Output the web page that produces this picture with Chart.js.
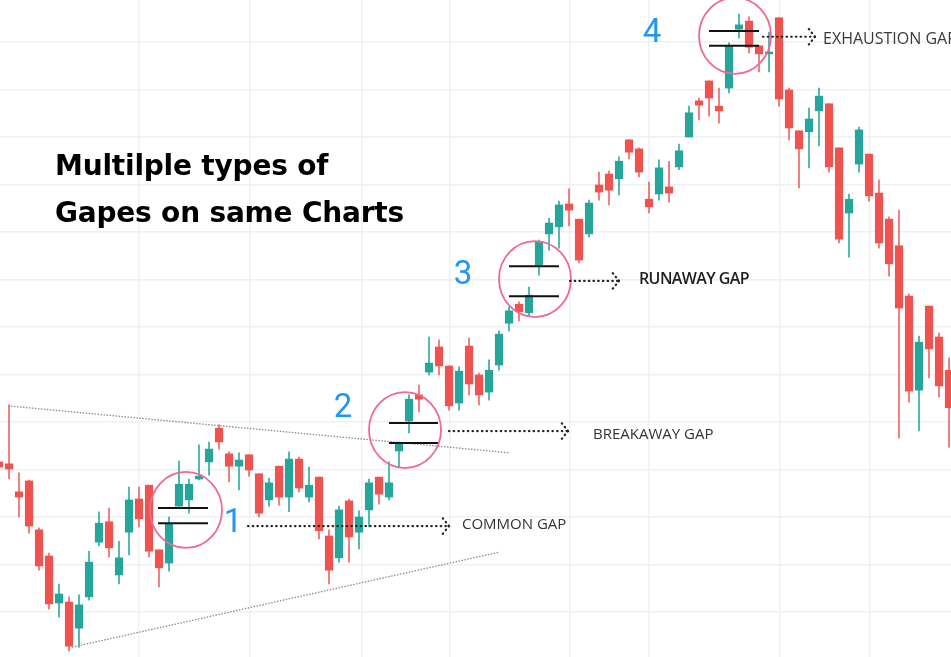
<!DOCTYPE html>
<html>
<head>
<meta charset="utf-8">
<script src="https://cdn.jsdelivr.net/npm/chart.js@4.4.0/dist/chart.umd.min.js"></script>
<style>
  html, body { margin: 0; padding: 0; background: #ffffff; }
  #wrap { position: relative; width: 951px; height: 657px; overflow: hidden; }
  #wrap canvas { position: absolute; left: 0; top: 0; }
  .lbl { position: absolute; white-space: nowrap; line-height: 1; transform: translate(0, -50%); }
  .title { font-family: "DejaVu Sans", sans-serif; font-weight: bold; font-size: 28px; color: #000; letter-spacing: -0.2px; }
  .num { font-family: Roboto, "Open Sans", sans-serif; font-size: 33px; color: #2196f3; transform: translate(-50%, -50%); }
  .gap { font-family: "Open Sans", sans-serif; font-size: 15px; color: #333; }
  .gap.bold { font-size: 16px; color: #1e1e1e; font-weight: 600; letter-spacing: -0.6px; }
  .gap.small { font-size: 16px; color: #3a3a3a; }
</style>
</head>
<body>
<div id="wrap"><canvas id="c" width="951" height="657"></canvas></div>
<script>
// ---- candle data ----
const opens = [
  131.6,131.2,125.3,127.6,117.3,111.8,101.9,102.1,96.6,103.2,
  114.7,119.0,107.8,116.8,123.8,126.7,113.1,110.3,122.3,123.6,
  128.0,131.6,138.7,133.3,130.7,133.1,129.1,123.6,130.7,124.2,
  132.2,124.2,128.4,116.0,111.4,123.4,116.8,121.5,128.4,124.2,
  133.9,140.2,145.7,150.5,155.8,151.8,144.0,156.0,149.9,146.3,
  152.0,160.8,164.8,163.0,173.1,179.6,181.1,185.9,182.7,179.6,
  189.9,192.2,191.2,199.4,197.5,186.9,188.0,189.5,193.7,200.0,
  207.6,211.8,206.5,210.3,222.7,224.4,219.2,217.5,225.1,209.9,
  201.3,201.1,205.5,207.0,197.7,184.0,194.3,196.4,188.2,182.7,
  177.1,166.5,146.7,164.4,157.9,150.9
];
const highs = [
  133.1,143.6,129.3,127.8,117.7,112.4,105.9,103.2,103.6,112.8,
  121.1,121.9,114.9,126.3,126.3,126.7,113.1,120.0,131.8,128.0,
  135.2,135.8,139.4,133.7,133.5,133.1,129.1,128.2,130.7,133.7,
  132.6,130.5,128.4,117.3,122.3,123.8,121.3,128.0,128.4,131.6,
  135.8,145.7,147.8,157.9,157.3,151.8,151.6,157.7,150.3,153.1,
  159.2,164.2,165.3,168.4,178.3,182.9,186.5,189.1,182.7,186.7,
  192.6,192.8,195.8,199.4,197.7,190.5,195.2,194.9,198.5,206.5,
  208.2,211.8,210.3,219.8,225.9,225.3,219.2,222.1,225.1,210.3,
  201.3,206.1,210.3,207.0,197.7,188.0,202.1,196.4,191.0,183.2,
  184.6,167.0,158.1,164.4,158.7,153.5
];
const lows = [
  127.8,128.0,120.0,116.6,108.8,100.6,98.9,91.8,92.6,102.5,
  113.9,111.6,105.9,112.0,117.9,111.6,105.3,108.6,122.3,120.8,
  127.8,128.8,134.3,127.4,125.7,128.6,120.0,122.3,122.5,121.1,
  125.3,123.2,115.4,105.9,110.5,110.5,113.3,117.9,122.7,123.6,
  130.5,137.7,142.1,149.9,149.9,142.5,142.5,145.7,143.6,144.6,
  150.9,159.2,161.3,162.3,170.9,176.2,176.6,181.3,173.5,178.9,
  186.7,185.7,187.8,195.4,191.6,184.0,186.7,186.3,193.1,200.0,
  203.6,204.4,202.9,209.3,220.8,217.7,213.7,213.7,206.5,199.4,
  189.3,193.5,198.1,192.6,177.7,174.7,192.6,186.5,176.6,170.7,
  136.6,144.2,138.1,149.3,145.3,134.7
];
const closes = [
  130.5,130.1,124.2,118.1,109.7,101.7,103.8,92.8,101.5,110.5,
  118.7,113.5,111.4,123.6,119.6,112.8,109.3,118.5,126.9,126.9,
  128.6,134.3,135.8,130.7,132.0,129.9,120.8,127.2,124.2,132.2,
  126.1,126.7,117.1,108.8,121.5,115.8,120.0,127.2,124.8,127.2,
  135.4,144.8,144.8,152.4,151.8,143.4,150.7,148.0,145.7,150.9,
  158.5,163.4,163.2,166.7,177.9,181.9,185.7,184.6,174.1,186.1,
  188.4,188.8,194.9,196.8,192.6,185.3,193.5,188.2,197.1,205.1,
  206.7,208.2,205.5,219.2,223.6,218.9,217.5,217.9,208.0,201.9,
  197.5,203.8,208.6,193.7,178.5,186.9,201.5,187.6,177.7,173.3,
  164.0,146.5,156.8,155.4,147.6,143.0
];
// grid ticks
const priceTicks = [100,110,120,130,140,150,160,170,180,190,200,210,220];
const timeTicks = [14, 25.1, 36.3, 45.1, 57.1, 65, 78.1, 87.1];

// ---- annotations (data coordinates: bar index, price) ----
const gapCircles = [[18.7,121.5],[40.6,138.3],[53.6,170.1],[73.6,221.3]];
const gapLines = [
  [15.9,20.9,121.9],[15.9,20.9,118.7],
  [39.0,43.9,139.8],[39.0,43.9,135.6],
  [51.0,56.0,172.8],[51.0,56.0,166.5],
  [71.0,76.0,222.3],[71.0,76.0,219.2]
];
const arrows = [[24.9,45.0,118.1],[45.0,56.9,138.1],[57.1,62.0,169.7],[76.4,81.6,221.1]];
const trendLines = [[0.9,143.4,51.1,133.5],[7.3,92.6,50.0,112.6]];
const labels = [
  {t:'Multilple types of', x:5.6, y:193.9, cls:'title'},
  {t:'Gapes on same Charts', x:5.6, y:184.0, cls:'title'},
  {t:'1', x:23.4, y:119.4, cls:'num'},
  {t:'2', x:34.4, y:143.6, cls:'num'},
  {t:'3', x:46.4, y:171.6, cls:'num'},
  {t:'4', x:65.3, y:222.5, cls:'num'},
  {t:'COMMON GAP', x:46.3, y:118.7, cls:'gap'},
  {t:'BREAKAWAY GAP', x:59.4, y:137.7, cls:'gap'},
  {t:'RUNAWAY GAP', x:64.0, y:170.3, cls:'gap bold'},
  {t:'EXHAUSTION GAP', x:82.4, y:220.8, cls:'gap small'}
];

const UP = '#26a69a', DOWN = '#ef5350';
const UPW = 'rgba(38,166,154,0.8)', DOWNW = 'rgba(239,83,80,0.75)';
const isUp = i => closes[i] >= opens[i];

const bodies = opens.map((o, i) => ({x: i, y: [o, closes[i]]}));
const wicks = lows.map((l, i) => ({x: i, y: [l, highs[i]]}));

const wrap = document.getElementById('wrap');
const labelEls = labels.map(l => {
  const d = document.createElement('div');
  d.className = 'lbl ' + l.cls;
  d.textContent = l.t;
  wrap.appendChild(d);
  return d;
});

const gapPlugin = {
  id: 'gapAnnotations',
  afterDatasetsDraw(chart) {
    const {ctx, scales: {x, y}} = chart;
    const px = v => x.getPixelForValue(v), py = v => y.getPixelForValue(v);
    ctx.save();
    // trend lines
    ctx.strokeStyle = '#8c8c8c'; ctx.lineWidth = 1.3; ctx.setLineDash([1.5, 1.5]);
    trendLines.forEach(t => {
      ctx.beginPath(); ctx.moveTo(px(t[0]), py(t[1])); ctx.lineTo(px(t[2]), py(t[3])); ctx.stroke();
    });
    // gap lines
    ctx.setLineDash([]); ctx.strokeStyle = '#111'; ctx.lineWidth = 2;
    gapLines.forEach(g => {
      ctx.beginPath(); ctx.moveTo(px(g[0]), py(g[2])); ctx.lineTo(px(g[1]), py(g[2])); ctx.stroke();
    });
    // circles
    ctx.strokeStyle = '#ee6a96'; ctx.lineWidth = 1.8;
    gapCircles.forEach(c => {
      ctx.beginPath(); ctx.ellipse(px(c[0]), py(c[1]), 36, 38, 0, 0, Math.PI * 2); ctx.stroke();
    });
    // dotted arrows
    ctx.strokeStyle = '#222'; ctx.lineWidth = 2.2; ctx.lineCap = 'round'; ctx.setLineDash([0.5, 4.2]);
    arrows.forEach(a => {
      const x0 = px(a[0]), x1 = px(a[1]), yy = py(a[2]);
      ctx.beginPath(); ctx.moveTo(x0, yy); ctx.lineTo(x1, yy); ctx.stroke();
      ctx.beginPath(); ctx.moveTo(x1, yy); ctx.lineTo(x1 - 8, yy - 10); ctx.stroke();
      ctx.beginPath(); ctx.moveTo(x1, yy); ctx.lineTo(x1 - 8, yy + 10); ctx.stroke();
    });
    ctx.restore();
  },
  afterDraw(chart) {
    const {scales: {x, y}} = chart;
    labels.forEach((l, i) => {
      labelEls[i].style.left = x.getPixelForValue(l.x) + 'px';
      labelEls[i].style.top = y.getPixelForValue(l.y) + 'px';
    });
  }
};

new Chart(document.getElementById('c'), {
  type: 'bar',
  data: {
    datasets: [
      {
        label: 'wick', data: wicks, barThickness: 1.3,
        backgroundColor: ctx => isUp(ctx.dataIndex) ? UPW : DOWNW,
        borderWidth: 0, order: 2
      },
      {
        label: 'body', data: bodies, barThickness: 7.5, minBarLength: 1.5,
        backgroundColor: ctx => isUp(ctx.dataIndex) ? UP : DOWN,
        borderWidth: 0, order: 1
      }
    ]
  },
  options: {
    responsive: false,
    animation: false,
    layout: { padding: 0 },
    datasets: { bar: { grouped: false } },
    plugins: { legend: { display: false }, tooltip: { enabled: false } },
    scales: {
      x: {
        type: 'linear', min: 0.1, max: 95.2, offset: false,
        grid: { color: '#edf1f6', lineWidth: 1.5, drawTicks: false, offset: false },
        border: { display: false },
        ticks: { display: false },
        afterBuildTicks: s => { s.ticks = timeTicks.map(v => ({value: v})); },
        afterFit: s => { s.height = 0; }
      },
      y: {
        type: 'linear', min: 90.53, max: 228.84,
        grid: { color: '#edf1f6', lineWidth: 1.5, drawTicks: false },
        border: { display: false },
        ticks: { display: false },
        afterBuildTicks: s => { s.ticks = priceTicks.map(v => ({value: v})); },
        afterFit: s => { s.width = 0; }
      }
    }
  },
  plugins: [gapPlugin]
});
</script>
</body>
</html>
